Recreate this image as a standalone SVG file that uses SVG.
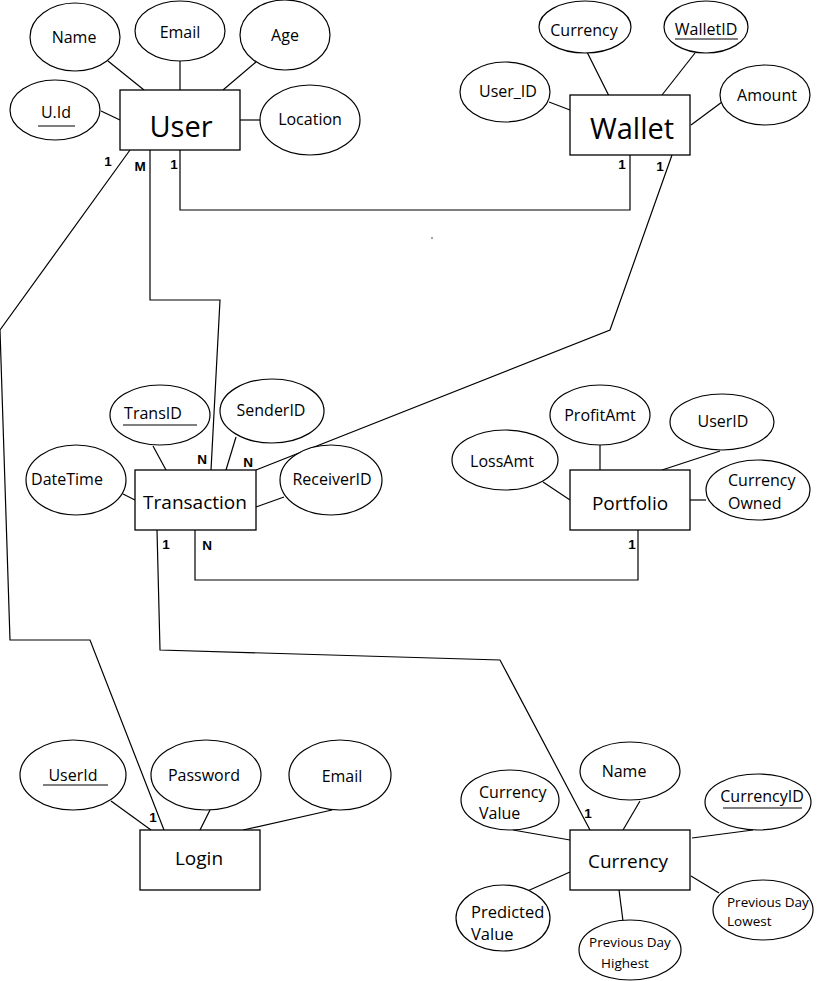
<svg xmlns="http://www.w3.org/2000/svg" width="819" height="981" viewBox="0 0 819 981">
<style>
rect.e{fill:#fff;stroke:#000;stroke-width:1.3}
ellipse{fill:#fff;stroke:#000;stroke-width:1.2}
.c line,.c polyline{stroke:#000;stroke-width:1.2;fill:none}
text{font-family:"Open Sans","Noto Sans","DejaVu Sans",sans-serif;font-size:16px;fill:#000;text-anchor:middle}
text.n{font-size:19px}
text.big{font-size:29px}
text.s{font-size:13.5px}
text.p{font-size:16.5px}
text.l{text-anchor:start}
text.k{font-family:"Liberation Sans",Arial,sans-serif;font-weight:bold;font-size:13.5px}
.u{stroke:#000;stroke-width:1.2}
</style>
<rect width="819" height="981" fill="#fff"/>
<g class="c" id="connectors">
<line x1="108" y1="61" x2="144" y2="90"/>
<line x1="180" y1="61" x2="180" y2="90"/>
<line x1="256" y1="62" x2="223" y2="90"/>
<line x1="101" y1="111" x2="120" y2="120"/>
<line x1="240" y1="120" x2="260" y2="120"/>
<line x1="586" y1="50" x2="609" y2="96"/>
<line x1="695" y1="53" x2="662" y2="95"/>
<line x1="549" y1="102" x2="570" y2="110"/>
<line x1="722" y1="102" x2="691" y2="125"/>
<line x1="153" y1="446" x2="166" y2="470"/>
<line x1="236" y1="437" x2="226" y2="470"/>
<line x1="123" y1="494" x2="135" y2="500"/>
<line x1="284" y1="497" x2="256" y2="507"/>
<line x1="600" y1="445" x2="600" y2="470"/>
<line x1="720" y1="451" x2="662" y2="470"/>
<line x1="543" y1="482" x2="570" y2="500"/>
<line x1="690" y1="500" x2="706" y2="500"/>
<line x1="111" y1="801" x2="151" y2="830"/>
<line x1="210" y1="810" x2="200" y2="830"/>
<line x1="332" y1="810" x2="243" y2="830"/>
<line x1="640" y1="801" x2="623" y2="830"/>
<line x1="513" y1="830" x2="570" y2="840"/>
<line x1="753" y1="830" x2="692" y2="838"/>
<line x1="523" y1="893" x2="570" y2="872"/>
<line x1="623" y1="921" x2="619" y2="890"/>
<line x1="719" y1="893" x2="691" y2="876"/>
<polyline points="130,150 0,330 10,640 90,640 164,830"/>
<polyline points="150,150 150,300 220,300 211,470"/>
<polyline points="180,150 180,210 630,210 630,155"/>
<polyline points="672,155 610,330 256,470"/>
<polyline points="157,530 160,650 500,660 590,830"/>
<polyline points="195,530 195,580 638,580 638,530"/>
</g>
<circle cx="432" cy="238" r="0.7" fill="#000"/>
<g id="user">
<rect class="e" x="120" y="90" width="120" height="60"/>
<text class="big" x="181" y="137">User</text>
</g>
<g id="user-name"><ellipse cx="75" cy="37" rx="45" ry="34"/><text x="74" y="43">Name</text></g>
<g id="user-email"><ellipse cx="180" cy="31" rx="45" ry="30"/><text x="180" y="38">Email</text></g>
<g id="user-age"><ellipse cx="285" cy="35" rx="45" ry="35"/><text x="285" y="41">Age</text></g>
<g id="user-uid"><ellipse cx="55" cy="110" rx="45" ry="30"/><text x="56" y="118">U.Id</text><line class="u" x1="38" y1="126" x2="75" y2="126"/></g>
<g id="user-location"><ellipse cx="310" cy="120" rx="50" ry="35"/><text x="310" y="125">Location</text></g>

<g id="wallet">
<rect class="e" x="570" y="95" width="120" height="60"/>
<text class="big" x="632" y="139">Wallet</text>
</g>
<g id="wallet-currency"><ellipse cx="585" cy="27" rx="46" ry="26"/><text x="584" y="36">Currency</text></g>
<g id="wallet-walletid"><ellipse cx="706" cy="27" rx="42" ry="26"/><text x="706" y="35">WalletID</text><line class="u" x1="675" y1="39" x2="738" y2="39"/></g>
<g id="wallet-userid"><ellipse cx="505" cy="92" rx="45" ry="30"/><text x="508" y="97">User_ID</text></g>
<g id="wallet-amount"><ellipse cx="765" cy="95" rx="45" ry="30"/><text x="767" y="101">Amount</text></g>

<g id="transaction">
<rect class="e" x="135" y="470" width="121" height="60"/>
<text class="n" x="195" y="509">Transaction</text>
</g>
<g id="tr-transid"><ellipse cx="160" cy="415" rx="50" ry="30"/><text x="153" y="419">TransID</text><line class="u" x1="123" y1="425" x2="197" y2="425"/></g>
<g id="tr-senderid"><ellipse cx="272" cy="411" rx="52" ry="32"/><text x="271" y="416">SenderID</text></g>
<g id="tr-datetime"><ellipse cx="76" cy="480" rx="50" ry="35"/><text x="67" y="485">DateTime</text></g>
<g id="tr-receiverid"><ellipse cx="331" cy="480" rx="51" ry="35"/><text x="332" y="485">ReceiverID</text></g>

<g id="portfolio">
<rect class="e" x="570" y="470" width="120" height="60"/>
<text class="n" x="630" y="510">Portfolio</text>
</g>
<g id="pf-profitamt"><ellipse cx="600" cy="415" rx="50" ry="30"/><text x="600" y="421">ProfitAmt</text></g>
<g id="pf-userid"><ellipse cx="722" cy="422" rx="52" ry="28"/><text x="723" y="427">UserID</text></g>
<g id="pf-lossamt"><ellipse cx="505" cy="460" rx="53" ry="30"/><text x="502" y="467">LossAmt</text></g>
<g id="pf-currencyowned"><ellipse cx="758" cy="490" rx="52" ry="30"/><text class="l" x="728" y="486">Currency</text><text class="l" x="728" y="509">Owned</text></g>

<g id="login">
<rect class="e" x="140" y="830" width="120" height="60"/>
<text class="n" x="199" y="865">Login</text>
</g>
<g id="lg-userid"><ellipse cx="73" cy="775" rx="53" ry="35"/><text x="73" y="781">UserId</text><line class="u" x1="43" y1="785" x2="108" y2="785"/></g>
<g id="lg-password"><ellipse cx="206" cy="775" rx="55" ry="35"/><text x="204" y="781">Password</text></g>
<g id="lg-email"><ellipse cx="340" cy="775" rx="51" ry="35"/><text x="342" y="782">Email</text></g>

<g id="currency">
<rect class="e" x="570" y="830" width="120" height="60"/>
<text class="n" x="628" y="868">Currency</text>
</g>
<g id="cu-name"><ellipse cx="630" cy="771" rx="50" ry="29"/><text x="624" y="777">Name</text></g>
<g id="cu-value"><ellipse cx="510" cy="800" rx="49" ry="30"/><text class="l" x="479" y="798">Currency</text><text class="l" x="479" y="819">Value</text></g>
<g id="cu-currencyid"><ellipse cx="758" cy="802" rx="53" ry="28"/><text x="762" y="802">CurrencyID</text><line class="u" x1="723" y1="808" x2="802" y2="808"/></g>
<g id="cu-predicted"><ellipse cx="503" cy="918" rx="47" ry="33"/><text class="l p" x="471" y="918">Predicted</text><text class="l p" x="471" y="940">Value</text></g>
<g id="cu-pdhighest"><ellipse cx="630" cy="950" rx="51" ry="30"/><text class="s" x="630" y="947">Previous Day</text><text class="s" x="625" y="968">Highest</text></g>
<g id="cu-pdlowest"><ellipse cx="763" cy="910" rx="50" ry="30"/><text class="s l" x="727" y="907">Previous Day</text><text class="s l" x="727" y="926">Lowest</text></g>

<g id="cardinalities">
<text class="k" x="108" y="166">1</text>
<text class="k" x="140" y="171">M</text>
<text class="k" x="174" y="169">1</text>
<text class="k" x="622" y="169">1</text>
<text class="k" x="660" y="171">1</text>
<text class="k" x="202" y="464">N</text>
<text class="k" x="248" y="467">N</text>
<text class="k" x="166" y="549">1</text>
<text class="k" x="207" y="550">N</text>
<text class="k" x="632" y="549">1</text>
<text class="k" x="153" y="822">1</text>
<text class="k" x="588" y="818">1</text>
</g>
</svg>
